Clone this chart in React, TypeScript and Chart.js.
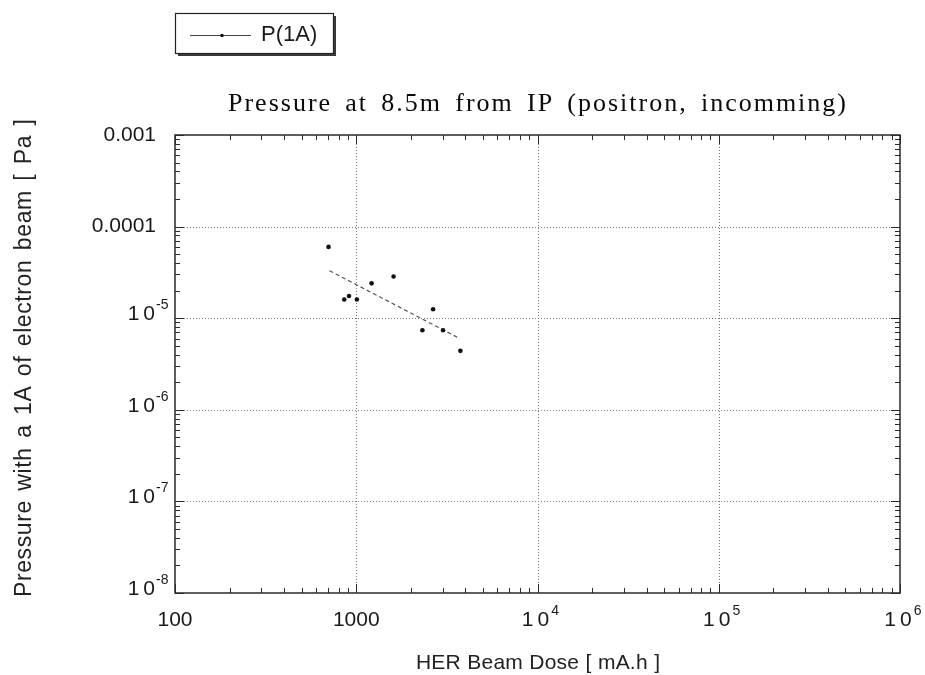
import React, { useEffect, useRef } from "react";
import { Chart, registerables } from "chart.js";

Chart.register(...registerables);

// ---- data ----
const doseMAh = [703, 859, 912, 1008, 1215, 1607, 2317, 2654, 3013, 3755];
const pressurePa = [6.0e-5, 1.6e-5, 1.75e-5, 1.6e-5, 2.4e-5, 2.85e-5, 7.4e-6, 1.25e-5, 7.4e-6, 4.4e-6];
const fitDose = [712, 3722];
const fitPressure = [3.3e-5, 6.0e-6];

const xDecades = [100, 1000, 1e4, 1e5, 1e6];
const xTickBase = ["100", "1000", "10", "10", "10"];
const xTickExp = ["", "", "4", "5", "6"];
const yDecades = [1e-3, 1e-4, 1e-5, 1e-6, 1e-7, 1e-8];
const yTickBase = ["0.001", "0.0001", "10", "10", "10", "10"];
const yTickExp = ["", "", "-5", "-6", "-7", "-8"];

const titleText = "Pressure at 8.5m from IP (positron, incomming)";
const xTitle = "HER Beam Dose [ mA.h ]";
const yTitle = "Pressure with a 1A of electron beam [ Pa ]";
const seriesLabel = "P(1A)";

const SANS = '"Liberation Sans", Arial, sans-serif';
const SERIF = '"Liberation Serif", "Times New Roman", serif';

function naturalWidth(ctx: CanvasRenderingContext2D, text: string) {
  let w = 0;
  for (const ch of text) w += ctx.measureText(ch).width;
  return w;
}

// draws text char by char; letter spacing ls, spaces stretched so the whole fits target
function drawSpaced(ctx: CanvasRenderingContext2D, text: string, x: number, y: number, target: number, ls = 0) {
  const chars = Array.from(text);
  const nat = naturalWidth(ctx, text) + ls * (chars.length - 1);
  const nSpaces = chars.filter((c) => c === " ").length;
  let extraSpace = 0;
  let extraAll = 0;
  if (nSpaces > 0) extraSpace = (target - nat) / nSpaces;
  else if (chars.length > 1) extraAll = (target - nat) / (chars.length - 1);
  let cx = x;
  for (const ch of chars) {
    ctx.fillText(ch, cx, y);
    cx += ctx.measureText(ch).width + ls + extraAll + (ch === " " ? extraSpace : 0);
  }
}

const decorPlugin = {
  id: "decor",
  beforeDatasetsDraw(chart: any) {
    const { ctx, chartArea: a, scales } = chart;
    const xs = scales.x;
    const ys = scales.y;
    ctx.save();
    ctx.strokeStyle = "#777";
    ctx.lineWidth = 1;
    ctx.setLineDash([1, 2]);
    xDecades.forEach((v) => {
      const px = Math.round(xs.getPixelForValue(v)) + 0.5;
      if (px <= a.left + 2 || px >= a.right - 2) return;
      ctx.beginPath();
      ctx.moveTo(px, a.top);
      ctx.lineTo(px, a.bottom);
      ctx.stroke();
    });
    yDecades.forEach((v) => {
      const py = Math.round(ys.getPixelForValue(v)) + 0.5;
      if (py <= a.top + 2 || py >= a.bottom - 2) return;
      ctx.beginPath();
      ctx.moveTo(a.left, py);
      ctx.lineTo(a.right, py);
      ctx.stroke();
    });
    ctx.restore();
  },
  afterDraw(chart: any) {
    const { ctx, chartArea: a, scales } = chart;
    const xs = scales.x;
    const ys = scales.y;
    ctx.save();
    ctx.setLineDash([]);
    // frame
    ctx.strokeStyle = "#2a2a2a";
    ctx.lineWidth = 1.5;
    ctx.strokeRect(a.left, a.top, a.right - a.left, a.bottom - a.top);

    // ticks
    ctx.lineWidth = 1;
    const minorLen = 5;
    const majorLen = 9;
    for (let i = 0; i < xDecades.length; i++) {
      const d = xDecades[i];
      const px = Math.round(xs.getPixelForValue(d)) + 0.5;
      ctx.beginPath();
      ctx.moveTo(px, a.bottom);
      ctx.lineTo(px, a.bottom - majorLen);
      ctx.moveTo(px, a.top);
      ctx.lineTo(px, a.top + majorLen);
      ctx.stroke();
      if (i === xDecades.length - 1) break;
      for (let k = 2; k <= 9; k++) {
        const mx = Math.round(xs.getPixelForValue(k * d)) + 0.5;
        ctx.beginPath();
        ctx.moveTo(mx, a.bottom);
        ctx.lineTo(mx, a.bottom - minorLen);
        ctx.moveTo(mx, a.top);
        ctx.lineTo(mx, a.top + minorLen);
        ctx.stroke();
      }
    }
    for (let i = 0; i < yDecades.length; i++) {
      const d = yDecades[i];
      const py = Math.round(ys.getPixelForValue(d)) + 0.5;
      ctx.beginPath();
      ctx.moveTo(a.left, py);
      ctx.lineTo(a.left + majorLen, py);
      ctx.moveTo(a.right, py);
      ctx.lineTo(a.right - majorLen, py);
      ctx.stroke();
      if (i === yDecades.length - 1) continue;
      for (let k = 2; k <= 9; k++) {
        const my = Math.round(ys.getPixelForValue((k * d) / 10)) + 0.5;
        ctx.beginPath();
        ctx.moveTo(a.left, my);
        ctx.lineTo(a.left + minorLen, my);
        ctx.moveTo(a.right, my);
        ctx.lineTo(a.right - minorLen, my);
        ctx.stroke();
      }
    }

    // tick labels
    ctx.fillStyle = "#1a1a1a";
    ctx.textBaseline = "middle";
    const baseFont = `21px ${SANS}`;
    const expFont = `14px ${SANS}`;
    xDecades.forEach((v, i) => {
      const px = xs.getPixelForValue(v);
      const y = a.bottom + 27;
      ctx.font = baseFont;
      if (!xTickExp[i]) {
        ctx.textAlign = "center";
        ctx.fillText(xTickBase[i], px, y);
      } else {
        ctx.textAlign = "left";
        const w = naturalWidth(ctx, xTickBase[i]) + 4;
        drawSpaced(ctx, xTickBase[i], px - w / 2 - 2, y, w);
        ctx.font = expFont;
        ctx.fillText(xTickExp[i], px + w / 2, y - 9);
      }
    });
    yDecades.forEach((v, i) => {
      const py = ys.getPixelForValue(v);
      ctx.font = baseFont;
      if (!yTickExp[i]) {
        ctx.textAlign = "right";
        ctx.fillText(yTickBase[i], a.left - 19, py);
      } else {
        ctx.textAlign = "left";
        const w = naturalWidth(ctx, yTickBase[i]) + 4;
        drawSpaced(ctx, yTickBase[i], a.left - 20 - w, py - 4, w);
        ctx.font = expFont;
        ctx.fillText(yTickExp[i], a.left - 19, py - 13);
      }
    });

    // title
    ctx.font = `26px ${SERIF}`;
    ctx.textAlign = "left";
    ctx.fillStyle = "#0a0a0a";
    drawSpaced(ctx, titleText, 228, 104, 618, 2.0);

    // axis titles
    ctx.font = `21px ${SANS}`;
    ctx.fillStyle = "#222";
    drawSpaced(ctx, xTitle, 416, 663, 244, 0.2);
    ctx.save();
    ctx.translate(25, 597);
    ctx.rotate(-Math.PI / 2);
    ctx.font = `23px ${SANS}`;
    drawSpaced(ctx, yTitle, 0, 0, 478, 0.6);
    ctx.restore();

    // legend box
    const lx = 175, ly = 13, lw = 158, lh = 40;
    ctx.fillStyle = "#3a3a3a";
    ctx.fillRect(lx + 3, ly + 3, lw, lh);
    ctx.fillStyle = "#fff";
    ctx.fillRect(lx, ly, lw, lh);
    ctx.strokeStyle = "#222";
    ctx.lineWidth = 1.2;
    ctx.strokeRect(lx + 0.5, ly + 0.5, lw, lh);
    ctx.strokeStyle = "#444";
    ctx.lineWidth = 1;
    ctx.beginPath();
    ctx.moveTo(190, 35.5);
    ctx.lineTo(251, 35.5);
    ctx.stroke();
    ctx.fillStyle = "#111";
    ctx.beginPath();
    ctx.arc(222, 35.5, 1.8, 0, Math.PI * 2);
    ctx.fill();
    ctx.font = `22px ${SANS}`;
    ctx.textAlign = "left";
    ctx.fillStyle = "#1a1a1a";
    ctx.fillText(seriesLabel, 261, 35);

    ctx.restore();
  },
};

export default function App() {
  const ref = useRef<HTMLCanvasElement | null>(null);
  useEffect(() => {
    if (!ref.current) return;
    const chart = new Chart(ref.current, {
      type: "scatter",
      data: {
        datasets: [
          {
            label: seriesLabel,
            data: doseMAh.map((x, i) => ({ x, y: pressurePa[i] })),
            showLine: false,
            pointRadius: 2.3,
            pointBackgroundColor: "#111",
            pointBorderWidth: 0,
            backgroundColor: "#111",
          },
          {
            label: "fit",
            data: fitDose.map((x, i) => ({ x, y: fitPressure[i] })),
            showLine: true,
            pointRadius: 0,
            borderColor: "#555",
            borderWidth: 1.2,
            borderDash: [4, 3],
          },
        ],
      },
      options: {
        animation: false,
        responsive: false,
        maintainAspectRatio: false,
        layout: { padding: { left: 175, right: 25, top: 135, bottom: 82 } },
        plugins: { legend: { display: false }, tooltip: { enabled: false }, title: { display: false } },
        scales: {
          x: { type: "logarithmic", min: 100, max: 1e6, display: false },
          y: { type: "logarithmic", min: 1e-8, max: 1e-3, display: false },
        },
      },
      plugins: [decorPlugin],
    });
    return () => chart.destroy();
  }, []);
  return (
    <div style={{ position: "absolute", left: 0, top: 0, background: "#fff" }}>
      <canvas ref={ref} width={925} height={675} />
    </div>
  );
}
